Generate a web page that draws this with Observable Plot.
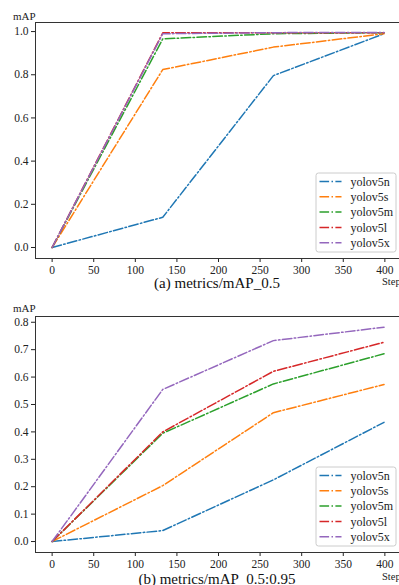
<!DOCTYPE html>
<html><head><meta charset="utf-8">
<script src="https://cdn.jsdelivr.net/npm/d3@7"></script>
<script src="https://cdn.jsdelivr.net/npm/@observablehq/plot@0.6"></script>
<style>
body{margin:0;background:#fff;}
#wrap{position:relative;width:399px;height:585px;overflow:hidden;font-family:"Liberation Serif","DejaVu Serif",serif;background:#fff;}
#wrap svg, #wrap svg text{font-family:"Liberation Serif","DejaVu Serif",serif !important;}
.panel{position:absolute;left:0;}
#overlay{position:absolute;left:0;top:0;pointer-events:none;}
</style>
</head><body>
<div id="wrap">
  <div id="pa" class="panel" style="top:0px"></div>
  <div id="pb" class="panel" style="top:290px"></div>
  <svg id="overlay" width="399" height="585"></svg>
</div>
<script>
// ---- data ----
const steps = [0, 133, 266, 399];
const models = ["yolov5n", "yolov5s", "yolov5m", "yolov5l", "yolov5x"];
const colors = ["#1f77b4", "#ff7f0e", "#2ca02c", "#d62728", "#9467bd"];
const xTicks = [0, 50, 100, 150, 200, 250, 300, 350, 400];
const yTicksA = [0, 0.2, 0.4, 0.6, 0.8, 1.0];
const yTicksB = [0, 0.1, 0.2, 0.3, 0.4, 0.5, 0.6, 0.7, 0.8];

// (a) metrics/mAP_0.5
const map50_n = [0, 0.14, 0.796, 0.99];
const map50_s = [0, 0.824, 0.928, 0.99];
const map50_m = [0, 0.966, 0.99, 0.995];
const map50_l = [0, 0.994, 0.995, 0.995];
const map50_x = [0, 0.99, 0.995, 0.996];

// (b) metrics/mAP_0.5:0.95
const map95_n = [0, 0.04, 0.225, 0.435];
const map95_s = [0, 0.204, 0.47, 0.573];
const map95_m = [0, 0.395, 0.575, 0.685];
const map95_l = [0, 0.40, 0.621, 0.727];
const map95_x = [0, 0.555, 0.733, 0.782];

const captionA = "(a) metrics/mAP_0.5";
const captionB = "(b) metrics/mAP_0.5:0.95";
const yLabel = "mAP";
const xLabel = "Step";

function tidy(series) {
  return series.flatMap((vals, i) => vals.map((v, j) => ({model: models[i], step: steps[j], value: v})));
}
const dataA = tidy([map50_n, map50_s, map50_m, map50_l, map50_x]);
const dataB = tidy([map95_n, map95_s, map95_m, map95_l, map95_x]);

const dash = "9.6,2.4,1.5,2.4";

function panel(data, yDomain, yTicks, height, mt, mb, labelDy) {
  return Plot.plot({
    width: 399, height,
    marginLeft: 35, marginRight: -2, marginTop: mt, marginBottom: mb,
    style: {fontFamily: "'Liberation Serif', serif", fontSize: "11.5px", color: "#222", background: "transparent", overflow: "visible"},
    x: {domain: [-20, 420]},
    y: {domain: yDomain},
    color: {domain: models, range: colors},
    marks: [
      Plot.axisX({ticks: xTicks, tickSize: 4, tickPadding: 3, label: null, tickFormat: d => d}),
      Plot.axisY({ticks: yTicks, tickSize: 4, tickPadding: 3, label: null, tickFormat: d3.format(".1f")}),
      Plot.line(data, {x: "step", y: "value", stroke: "model", z: "model", strokeWidth: 1.5, strokeDasharray: dash}),
      Plot.frame({stroke: "#333", strokeWidth: 1}),
      Plot.text([yLabel], {frameAnchor: "top-left", textAnchor: "end", lineAnchor: "middle", dx: 0, dy: labelDy, fontSize: 11, fill: "#222"})
    ]
  });
}

document.getElementById("pa").append(panel(dataA, [-0.051, 1.042], yTicksA, 290, 22, 32, -6.5));
document.getElementById("pb").append(panel(dataB, [-0.040, 0.821], yTicksB, 295, 26, 33, -7.7));

// overlay: captions, step labels, legends
const ov = d3.select("#overlay");
ov.append("text").attr("x", 217).attr("y", 287.5).attr("text-anchor", "middle").attr("font-size", 15).attr("fill", "#111").text(captionA);
ov.append("text").attr("x", 217).attr("y", 584).attr("text-anchor", "middle").attr("font-size", 15).attr("fill", "#111").text(captionB);
ov.append("text").attr("x", 382).attr("y", 285).attr("font-size", 10.5).attr("fill", "#222").text(xLabel);
ov.append("text").attr("x", 382).attr("y", 580).attr("font-size", 10.5).attr("fill", "#222").text(xLabel);

function legend(x, y) {
  const g = ov.append("g").attr("transform", `translate(${x},${y})`);
  g.append("rect").attr("x", 0.5).attr("y", 0.5).attr("width", 80).attr("height", 79).attr("rx", 2.5)
    .attr("fill", "rgba(255,255,255,0.85)").attr("stroke", "#cccccc");
  models.forEach((m, i) => {
    const cy = 9 + i * 15.3;
    g.append("line").attr("x1", 4).attr("x2", 26).attr("y1", cy).attr("y2", cy)
      .attr("stroke", colors[i]).attr("stroke-width", 1.5).attr("stroke-dasharray", dash);
    g.append("text").attr("x", 35).attr("y", cy).attr("dy", "0.35em").attr("font-size", 12).attr("fill", "#222").text(m);
  });
}
legend(315.5, 172.5);
legend(315.5, 466.5);
</script>
</body></html>
